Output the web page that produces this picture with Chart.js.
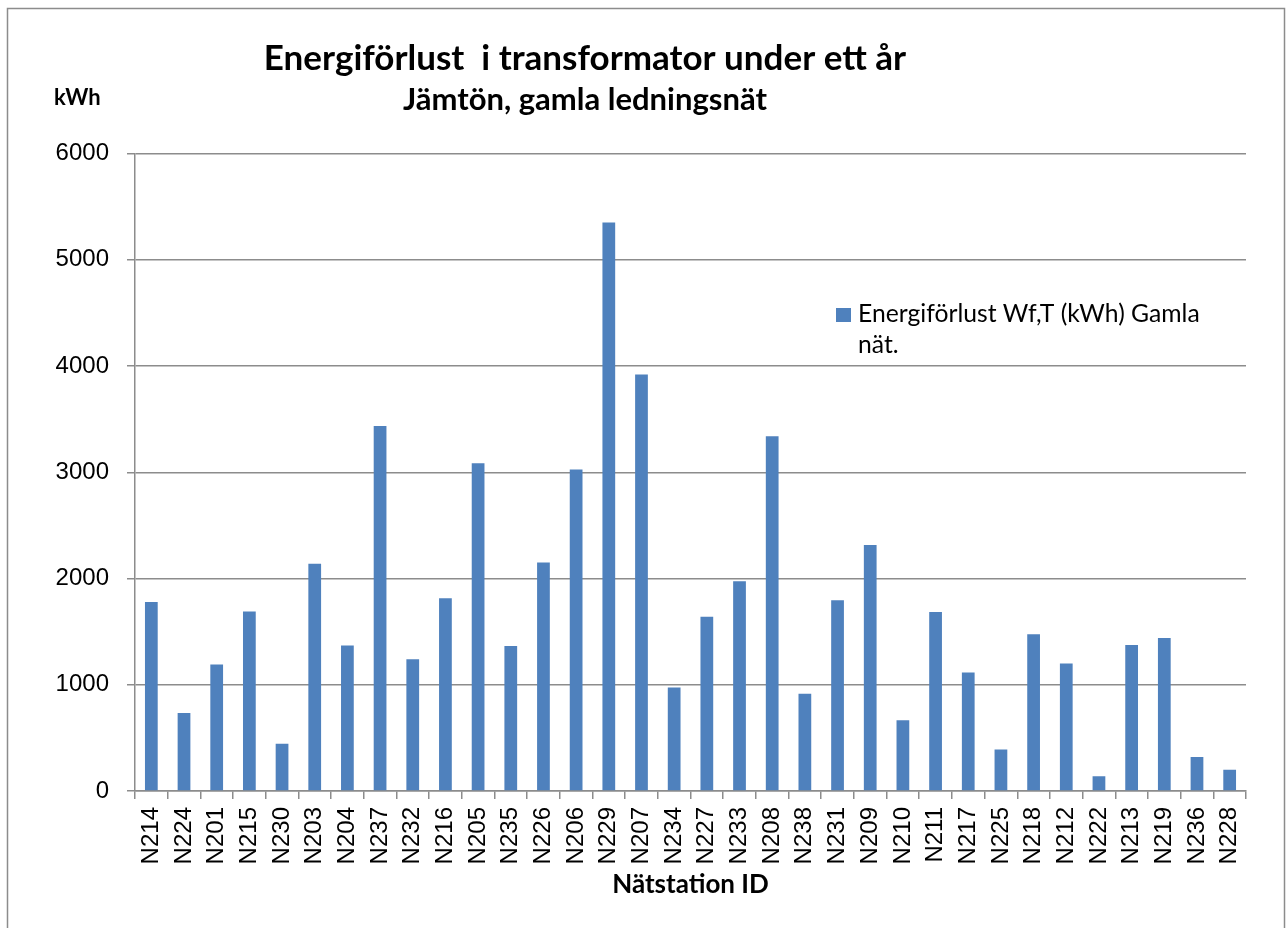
<!DOCTYPE html>
<html>
<head>
<meta charset="utf-8">
<script src="https://cdn.jsdelivr.net/npm/chart.js@4.4.1/dist/chart.umd.min.js"></script>
<style>
  html, body { margin: 0; padding: 0; background: #ffffff; }
  canvas { display: block; }
</style>
</head>
<body>
<canvas id="c" width="1288" height="928"></canvas>
<script>
// ---- Data ----
const categories = ['N214','N224','N201','N215','N230','N203','N204','N237','N232','N216','N205','N235','N226','N206','N229','N207','N234','N227','N233','N208','N238','N231','N209','N210','N211','N217','N225','N218','N212','N222','N213','N219','N236','N228'];
const lossValues = [1780, 735, 1190, 1690, 445, 2140, 1370, 3435, 1240, 1815, 3085, 1365, 2150, 3025, 5350, 3920, 975, 1640, 1975, 3340, 915, 1795, 2315, 665, 1685, 1115, 390, 1475, 1200, 140, 1375, 1440, 320, 200];
const seriesName = ['Energiförlust Wf,T (kWh) Gamla', 'nät.'];
const yMin = 0, yMax = 6000, yStep = 1000;
const titleText = 'Energiförlust  i transformator under ett år';
const subtitleText = 'Jämtön, gamla ledningsnät';
const yUnitText = 'kWh';
const xTitleText = 'Nätstation ID';

const BAR = '#4F81BD';
const GRID = '#8c8c8c';

const decor = {
  id: 'decor',
  beforeDraw(chart) {
    const ctx = chart.ctx;
    ctx.save();
    ctx.fillStyle = '#ffffff';
    ctx.fillRect(0, 0, chart.width, chart.height);
    ctx.strokeStyle = '#8c8c8c';
    ctx.lineWidth = 1.5;
    ctx.strokeRect(7.5, 8.5, 1277, 930);
    ctx.restore();
  },
  afterDraw(chart) {
    const ctx = chart.ctx;
    const area = chart.chartArea;
    ctx.save();
    ctx.fillStyle = '#000000';
    ctx.textBaseline = 'alphabetic';
    // Title
    ctx.textAlign = 'center';
    ctx.font = 'bold 35px Lato';
    ctx.fillText(titleText, 585, 70);
    ctx.font = 'bold 31px Lato';
    ctx.fillText(subtitleText, 585, 110);
    // y unit
    ctx.textAlign = 'left';
    ctx.font = 'bold 22px Lato';
    ctx.fillText(yUnitText, 54, 105);
    // x title
    ctx.textAlign = 'center';
    ctx.font = 'bold 26px Lato';
    ctx.fillText(xTitleText, (area.left + area.right) / 2, 893);
    // Legend
    ctx.fillStyle = BAR;
    ctx.fillRect(836, 308, 15, 14);
    ctx.fillStyle = '#000000';
    ctx.textAlign = 'left';
    ctx.font = '24.7px Lato';
    ctx.fillText(seriesName[0], 858, 322);
    ctx.fillText(seriesName[1], 858, 353);
    ctx.restore();
  }
};

new Chart(document.getElementById('c'), {
  type: 'bar',
  data: {
    labels: categories,
    datasets: [{
      label: seriesName.join(' '),
      data: lossValues,
      backgroundColor: BAR,
      borderWidth: 0,
      barPercentage: 0.39,
      categoryPercentage: 1.0
    }]
  },
  options: {
    responsive: false,
    animation: false,
    devicePixelRatio: 1,
    layout: { padding: { left: 0, right: 42, top: 153.5, bottom: 0 } },
    plugins: {
      legend: { display: false },
      tooltip: { enabled: false },
      title: { display: false }
    },
    scales: {
      x: {
        grid: { drawOnChartArea: false, drawTicks: true, tickLength: 8, color: GRID, lineWidth: 1.5 },
        border: { color: GRID, width: 1.5 },
        ticks: {
          autoSkip: false, minRotation: 90, maxRotation: 90, padding: 8,
          color: '#000000', font: { family: 'Liberation Sans', size: 24 }
        },
        afterFit(s) { s.height = 137; }
      },
      y: {
        min: yMin, max: yMax,
        grid: { color: GRID, lineWidth: 1.5, tickLength: 8 },
        border: { color: GRID, width: 1.5 },
        ticks: {
          stepSize: yStep, padding: 18,
          callback: (v) => String(v),
          color: '#000000', font: { family: 'Liberation Sans', size: 24 }
        },
        afterFit(s) { s.width = 135; }
      }
    }
  },
  plugins: [decor]
});
</script>
</body>
</html>
